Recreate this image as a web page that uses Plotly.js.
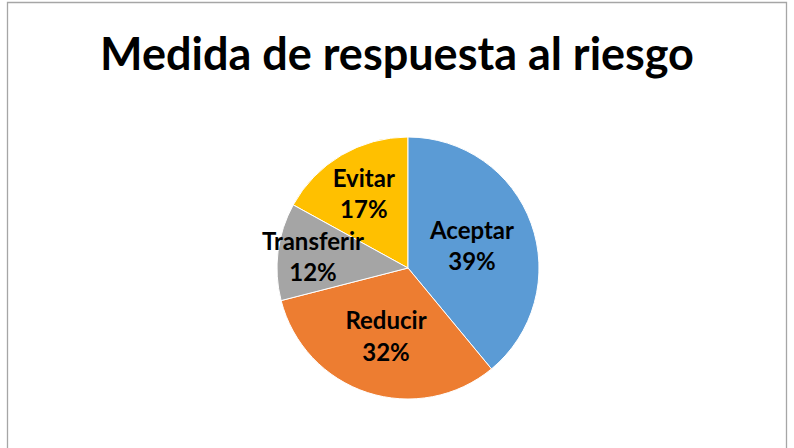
<!DOCTYPE html>
<html>
<head>
<meta charset="utf-8">
<script src="https://cdn.plot.ly/plotly-3.0.1.min.js"></script>
<style>
html,body{margin:0;padding:0;background:#fff;}
#chart{width:794px;height:448px;}
</style>
</head>
<body>
<div id="chart"></div>
<script>
// Slices listed starting from "Evitar" so that the wide "Transferir" label is drawn last (on top);
// the rotation puts "Aceptar" back at 12 o'clock, going clockwise as in the reference.
const categories = ["Evitar", "Aceptar", "Reducir", "Transferir"];
const values = [17, 39, 32, 12];
const colors = ["#FFC000", "#5B9BD5", "#ED7D31", "#A5A5A5"];
const chartTitle = "Medida de respuesta al riesgo";

const W = 794, H = 448;
const cx = 408, cy = 268, r = 131;
const total = values.reduce((a, b) => a + b, 0);
const startRotation = -values[0] / total * 360;

const FONT = "Lato, 'Open Sans', sans-serif";

const trace = {
  type: "pie",
  labels: categories,
  values: values,
  sort: false,
  direction: "clockwise",
  rotation: startRotation,
  marker: {colors: colors, line: {color: "#ffffff", width: 1}},
  texttemplate: "<b>%{label}</b><br><b>%{percent:.0%}</b>",
  textposition: "inside",
  insidetextorientation: "horizontal",
  textfont: {family: FONT, size: 24, color: "#000000"},
  hoverinfo: "none",
  showlegend: false,
  domain: {x: [(cx - r) / W, (cx + r) / W], y: [(H - cy - r) / H, (H - cy + r) / H]}
};

const layout = {
  width: W, height: H,
  margin: {l: 0, r: 0, t: 0, b: 0},
  paper_bgcolor: "#ffffff",
  uniformtext: {mode: "show", minsize: 24},
  title: {
    text: "<b>" + chartTitle + "</b>",
    font: {family: FONT, size: 45, color: "#000000"},
    x: 0.5, xanchor: "center",
    y: (H - 54) / H, yanchor: "middle"
  },
  shapes: [{
    type: "rect", xref: "paper", yref: "paper",
    x0: 7.5 / W, x1: 786.5 / W, y0: -0.1, y1: (H - 2.5) / H,
    line: {color: "#A6A6A6", width: 1.3}
  }]
};

Plotly.newPlot("chart", [trace], layout, {displayModeBar: false, staticPlot: true});
</script>
</body>
</html>
